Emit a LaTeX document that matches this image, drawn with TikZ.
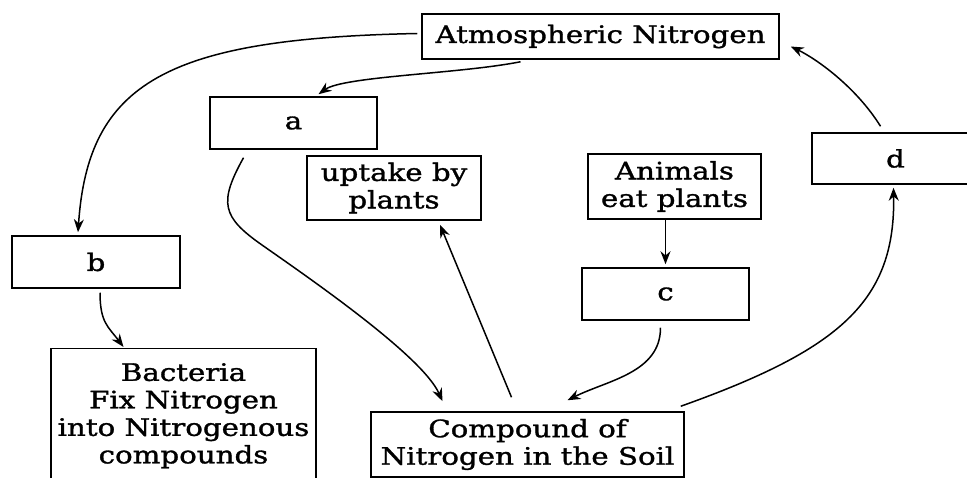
\documentclass[tikz,border=0pt]{standalone}
\usepackage{fontspec}
\setmainfont[FakeStretch=1.22,FakeBold=1.3]{DejaVu Serif}
\usetikzlibrary{arrows.meta}
\begin{document}
\begin{tikzpicture}[x=1pt,y=-1pt,
  box/.style={draw, line width=1.5pt, inner sep=0pt, align=center,
    font=\fontsize{24}{27.5}\selectfont},
  arr/.style={line width=1.5pt, -{Stealth[length=13pt,width=10pt]}}]
\useasboundingbox (0,0) rectangle (967,478);
\clip (0,0) rectangle (967,478);
\fill[white] (0,0) rectangle (967,478);
\node[box, minimum width=357, minimum height=45] (atm) at (600.5,36.5) {Atmospheric Nitrogen};
\node[box, minimum width=167, minimum height=52] (a) at (293.5,123) {a};
\node[box, minimum width=174, minimum height=64] (up) at (394,188) {uptake by\\plants};
\node[box, minimum width=168, minimum height=52] (b) at (96,262) {b};
\node[box, minimum width=265, minimum height=134, anchor=north] (bact) at (183.5,348)
  {Bacteria\\Fix Nitrogen\\into Nitrogenous\\compounds};
\node[box, minimum width=313, minimum height=65] (soil) at (527.5,444.5) {Compound of\\Nitrogen in the Soil};
\node[box, minimum width=173, minimum height=65] (ani) at (674.5,186.5) {Animals\\eat plants};
\node[box, minimum width=167, minimum height=52] (c) at (665.5,294) {c};
\node[box, minimum width=167, minimum height=51] (d) at (895.5,158.5) {d};

\draw[arr] ([xshift=-4pt,yshift=3pt]atm.west) .. controls +(-250,5) and +(10,-150) .. ([xshift=-18pt,yshift=3pt]b.north);
\draw[arr] ([xshift=-80pt,yshift=-2pt]atm.south) .. controls +(-60,12) and +(25,-18) .. ([xshift=25pt,yshift=2pt]a.north);
\draw[arr] ([xshift=-50pt,yshift=-8pt]a.south) .. controls +(-25,45) and +(-40,-28) .. (262,245)
  .. controls +(50,35) and +(-20,-45) .. ([xshift=-85pt,yshift=10pt]soil.north);
\draw[arr] ([xshift=-16pt,yshift=14pt]soil.north) -- ([xshift=46pt,yshift=-4pt]up.south);
\draw[arr] (c.north |- ani.south) -- ([yshift=3pt]c.north);
\draw[arr] ([xshift=-5pt,yshift=-7pt]c.south) .. controls +(0,45) and +(40,-20) .. ([xshift=40pt,yshift=11pt]soil.north);
\draw[arr] ([xshift=-4pt,yshift=5pt]soil.north east) .. controls +(160,-57) and +(2,113) .. ([xshift=-2pt,yshift=-3pt]d.south);
\draw[arr] ([xshift=-15pt,yshift=6pt]d.north) .. controls +(-25,-40) and +(25,12) .. ([xshift=11pt,yshift=-10pt]atm.east);
\draw[arr] ([xshift=4pt,yshift=-4pt]b.south) .. controls +(0,30) and +(-15,-20) .. ([xshift=-60pt,yshift=1pt]bact.north);
\end{tikzpicture}
\end{document}
